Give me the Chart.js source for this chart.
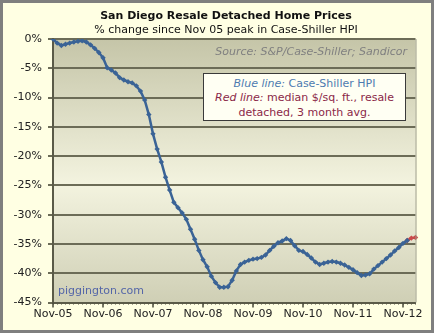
<!DOCTYPE html>
<html>
<head>
<meta charset="utf-8">
<script src="https://cdn.jsdelivr.net/npm/chart.js@4/dist/chart.umd.min.js"></script>
<style>
  html, body { margin: 0; padding: 0; background: #FFFFE3; }
  #wrap { position: relative; width: 434px; height: 333px; font-family: "DejaVu Sans", Verdana, sans-serif; }
  #chart { position: absolute; left: 0; top: 0; }
  .frame { position: absolute; left: 0; top: 0; width: 434px; height: 333px; box-sizing: border-box; border: 3px solid #7f7f7f; pointer-events: none; }
  .t { position: absolute; white-space: nowrap; font-size: 11px; }
  #title { left: 0; width: 452px; text-align: center; top: 9px; font-weight: bold; color: #111; }
  #subtitle { left: 0; width: 452px; text-align: center; top: 23px; color: #111; }
  #source { right: 27px; top: 45px; font-style: italic; color: #808080; }
  #note { left: 203px; top: 73px; width: 203px; height: 48px; box-sizing: border-box; border: 1.5px solid #3a3a3a; background: #FFFFF3; text-align: center; font-size: 11px; line-height: 14.3px; padding-top: 3px; }
  #note .b { color: #4d7bb0; }
  #note .r { color: #8b2848; }
  #note i { font-style: italic; }
  #pig { left: 58px; top: 284px; color: #5466a8; }
</style>
</head>
<body>
<div id="wrap">
  <canvas id="chart" width="434" height="333"></canvas>
  <div class="t" id="title">San Diego Resale Detached Home Prices</div>
  <div class="t" id="subtitle">% change since Nov 05 peak in Case-Shiller HPI</div>
  <div class="t" id="source">Source: S&amp;P/Case-Shiller; Sandicor</div>
  <div class="t" id="note">
    <div class="b"><i>Blue line:</i> Case-Shiller HPI</div>
    <div class="r"><i>Red line:</i> median $/sq. ft., resale</div>
    <div class="r">detached, 3 month avg.</div>
  </div>
  <div class="t" id="pig">piggington.com</div>
  <div class="frame"></div>
</div>
<script>
// months Nov-05 .. Feb-13
const monthNames = ['Jan', 'Feb', 'Mar', 'Apr', 'May', 'Jun', 'Jul', 'Aug', 'Sep', 'Oct', 'Nov', 'Dec'];
const months = [];
for (let i = 0; i < 88; i++) {
    const m = (10 + i) % 12;
    const y = 5 + Math.floor((10 + i) / 12);
    months.push(monthNames[m] + '-' + String(y).padStart(2, '0'));
}

// Case-Shiller HPI, % change since Nov 05 (Nov-05 .. Dec-12)
const caseShiller = [
    0, -0.7, -1.1, -0.9, -0.7, -0.5, -0.4, -0.3, -0.5, -1.0, -1.6, -2.3,
    -3.2, -4.9, -5.3, -5.8, -6.6, -7.0, -7.3, -7.5, -8.0, -8.9, -10.4, -12.9,
    -16.2, -18.8, -21.0, -23.6, -25.8, -27.9, -28.8, -29.7, -30.8, -32.5, -34.2, -36.1,
    -37.7, -38.9, -40.5, -41.6, -42.4, -42.4, -42.3, -41.2, -39.6, -38.5, -38.1, -37.8,
    -37.6, -37.5, -37.3, -36.9, -36.1, -35.4, -34.8, -34.5, -34.1, -34.4, -35.3, -36.1,
    -36.3, -36.8, -37.4, -38.1, -38.5, -38.3, -38.1, -38.0, -38.1, -38.3, -38.6, -39.0,
    -39.4, -39.9, -40.4, -40.3, -40.1, -39.3, -38.7, -38.1, -37.5, -36.9, -36.2, -35.6,
    -34.9, -34.4
];

// median $/sq. ft., 3 month avg. (Dec-12 .. Feb-13)
const redStart = 85;
const medianSqft = [-34.4, -34.0, -33.9];

const yTicks = { min: -45, max: 0, step: 5 };

const blueData = months.map((m, i) => i < caseShiller.length ? caseShiller[i] : null);
const redData = months.map((m, i) => (i >= redStart && i < redStart + medianSqft.length) ? medianSqft[i - redStart] : null);

const plotDecor = {
    id: 'plotDecor',
    beforeDraw(chart) {
        const { ctx, chartArea: a } = chart;
        const g = ctx.createLinearGradient(0, a.top, 0, a.bottom);
        g.addColorStop(0, '#C5C5A8');
        g.addColorStop(0.55, '#F3F3DF');
        g.addColorStop(1, '#CFCFB5');
        ctx.save();
        ctx.fillStyle = g;
        ctx.fillRect(a.left, a.top, a.right - a.left, a.bottom - a.top);
        ctx.restore();
    },
    afterDraw(chart) {
        const { ctx, chartArea: a } = chart;
        const x = chart.scales.x;
        ctx.save();
        ctx.strokeStyle = '#9a9a8a';
        ctx.lineWidth = 1;
        ctx.beginPath();
        ctx.moveTo(a.right + 0.5, a.top);
        ctx.lineTo(a.right + 0.5, a.bottom);
        ctx.stroke();
        // longer ticks at each November
        ctx.strokeStyle = '#4a4a3a';
        ctx.lineWidth = 1.5;
        for (let i = 0; i < months.length; i += 12) {
            const px = x.getPixelForTick(i);
            ctx.beginPath();
            ctx.moveTo(px, a.bottom);
            ctx.lineTo(px, a.bottom + 5);
            ctx.stroke();
        }
        ctx.restore();
    }
};

Chart.defaults.font.family = '"DejaVu Sans", Verdana, sans-serif';
Chart.defaults.font.size = 11;
Chart.defaults.color = '#222';

new Chart(document.getElementById('chart'), {
    type: 'line',
    data: {
        labels: months,
        datasets: [{
            label: 'Case-Shiller HPI',
            data: blueData,
            borderColor: '#3a6396',
            backgroundColor: '#3a6396',
            borderWidth: 2.5,
            pointStyle: 'rectRot',
            pointRadius: 2.7,
            pointBorderWidth: 0,
            tension: 0,
            spanGaps: false
        }, {
            label: 'median $/sq. ft.',
            data: redData,
            borderColor: '#c94a4a',
            backgroundColor: '#c94a4a',
            borderWidth: 2.5,
            pointStyle: 'rectRot',
            pointRadius: 2.7,
            pointBorderWidth: 0,
            tension: 0
        }]
    },
    options: {
        responsive: false,
        animation: false,
        layout: { padding: { top: 39, right: 18.5, left: 0, bottom: 0 } },
        plugins: { legend: { display: false }, tooltip: { enabled: false } },
        scales: {
            x: {
                type: 'category',
                offset: false,
                afterFit(s) { s.height = 30.5; },
                grid: { drawOnChartArea: false, tickLength: 2, color: '#4a4a3a', lineWidth: 1 },
                border: { display: true, color: '#5a5a48', width: 2 },
                ticks: {
                    autoSkip: false,
                    maxRotation: 0,
                    padding: 3,
                    color: '#222',
                    callback: (v, i) => i % 12 === 0 ? months[i] : ''
                }
            },
            y: {
                min: yTicks.min,
                max: yTicks.max,
                afterFit(s) { s.width = 53; },
                grid: { color: '#6c6c57', lineWidth: 2, tickLength: 5 },
                border: { display: true, color: '#5a5a48', width: 2 },
                ticks: {
                    stepSize: yTicks.step,
                    padding: 6,
                    color: '#222',
                    callback: v => v + '%'
                }
            }
        }
    },
    plugins: [plotDecor]
});
</script>
</body>
</html>
